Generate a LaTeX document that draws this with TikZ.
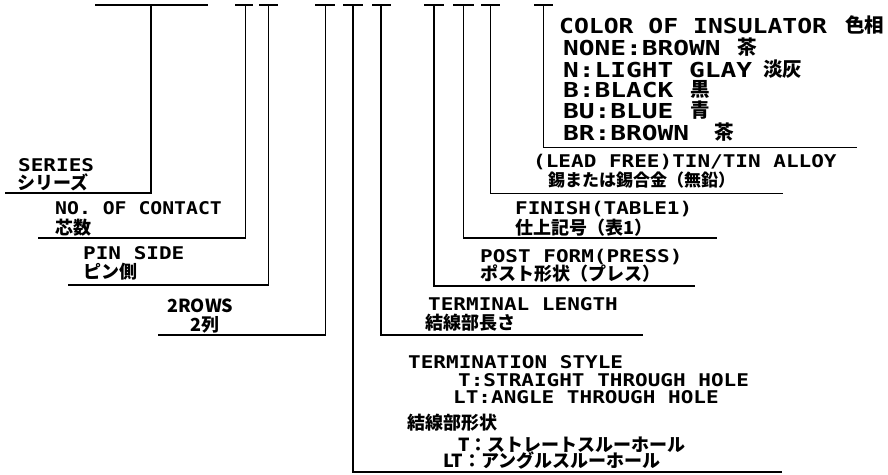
\documentclass[tikz,border=0pt]{standalone}
\usepackage{fontspec}
\newfontfamily\latfam[FakeStretch=1.2]{DejaVu Sans Mono}
\newfontfamily\latfamW[FakeStretch=1.27]{DejaVu Sans Mono}
\newfontfamily\latfamN[FakeStretch=1.13]{DejaVu Sans Mono}
\newfontfamily\jpfam{Noto Sans CJK JP}
\newcommand\mylat{\latfam\bfseries\fontsize{17.5pt}{20pt}\selectfont}
\newcommand\mylatN{\latfamN\bfseries\fontsize{17.5pt}{20pt}\selectfont}
\newcommand\mylatC{\latfam\bfseries\fontsize{20.6pt}{23pt}\selectfont}
\newcommand\mylatW{\latfamW\bfseries\fontsize{20.6pt}{23pt}\selectfont}
\newcommand\myjp{\jpfam\bfseries\fontsize{18pt}{20pt}\selectfont}
\newcommand\myjpS{\jpfam\bfseries\fontsize{17pt}{19pt}\selectfont}
\newcommand\myjpC{\jpfam\bfseries\fontsize{19.5pt}{22pt}\selectfont}
\begin{document}
\begin{tikzpicture}[x=1pt,y=-1pt,
  lbl/.style={anchor=base west,inner sep=0pt,font=\mylat,text height=13pt,text depth=0pt},
  lblC/.style={anchor=base west,inner sep=0pt,font=\mylatC,text height=15pt,text depth=0pt},
  lblW/.style={anchor=base west,inner sep=0pt,font=\mylatW,text height=15pt,text depth=0pt},
  jlbl/.style={anchor=base west,inner sep=0pt,font=\myjp,text height=13pt,text depth=1pt},
  jlblC/.style={anchor=base west,inner sep=0pt,font=\myjpC,text height=15pt,text depth=1pt},
  topbar/.style={line width=2.6pt},
  leader/.style={line width=1.8pt}]
\fill[white] (0,0) rectangle (888,474);
\useasboundingbox (0,0) rectangle (888,474);
% top bars
\coordinate (b1a) at (95,5);   \coordinate (b1b) at (208,5);
\coordinate (b2a) at (235,5);  \coordinate (b2b) at (253,5);
\coordinate (b3a) at (259,5);  \coordinate (b3b) at (278,5);
\coordinate (b4a) at (315,5);  \coordinate (b4b) at (335,5);
\coordinate (b5a) at (343,5);  \coordinate (b5b) at (363,5);
\coordinate (b6a) at (372,5);  \coordinate (b6b) at (391,5);
\coordinate (b7a) at (424,5);  \coordinate (b7b) at (444,5);
\coordinate (b8a) at (453,5);  \coordinate (b8b) at (474,5);
\coordinate (b9a) at (481,5);  \coordinate (b9b) at (500,5);
\coordinate (b10a) at (534,5); \coordinate (b10b) at (553,5);
\foreach \i in {1,...,10} {\draw[topbar] (b\i a) -- (b\i b);}
% leader tops and ends
\coordinate (t1) at (151,5);    \coordinate (l1) at (5,192.7);
\coordinate (t2) at (245.5,5);  \coordinate (l2) at (38,237.7);
\coordinate (t3) at (268.5,5);  \coordinate (l3) at (68,285);
\coordinate (t4) at (325.5,5);  \coordinate (l4) at (158,335);
\coordinate (t5) at (353,5);    \coordinate (l5) at (782,471.7);
\coordinate (t6) at (381,5);    \coordinate (l6) at (643,335);
\coordinate (t7) at (434,5);    \coordinate (l7) at (695,286);
\coordinate (t8) at (463.5,5);  \coordinate (l8) at (717,238);
\coordinate (t9) at (490.5,5);  \coordinate (l9) at (783,193.5);
\coordinate (t10) at (543.5,5); \coordinate (l10) at (857,147.5);
\foreach \i in {1,...,10} {\draw[leader] (t\i) |- (l\i);}
% labels
\node[lbl]  (series)  at (18,171) {SERIES};
\node[jlbl] (seriesj) at (17,189.5) {シリーズ};
\node[lbl,font=\mylatN] (noc) at (55,214) {NO. OF CONTACT};
\node[jlbl] (nocj)    at (55,234.5) {芯数};
\node[lbl]  (pin)     at (83,259) {PIN SIDE};
\node[jlbl] (pinj)    at (83,278) {ピン側};
\node[jlbl] (rows)    at (167,312) {2ROWS};
\node[jlbl] (rowsj)   at (190,331) {2列};
\node[lbl]  (tl)      at (428,310) {TERMINAL LENGTH};
\node[jlbl] (tlj)     at (425,329.5) {結線部長さ};
\node[lbl]  (pf)      at (480,262) {POST FORM(PRESS)};
\node[jlbl] (pfj)     at (480,280) {ポスト形状（プレス）};
\node[lbl]  (fin)     at (515,214) {FINISH(TABLE1)};
\node[jlbl] (finj)    at (515,234.5) {仕上記号（表1）};
\node[lbl]  (lf)      at (533,167) {(LEAD FREE)TIN/TIN ALLOY};
\node[anchor=base west,inner sep=0pt,font=\myjpS,text height=13pt,text depth=1pt] (lfj) at (548,186.5) {錫または錫合金（無鉛）};
% color of insulator
\node[lblC]  (col)   at (559,33) {COLOR OF INSULATOR};
\node[jlblC] (colj)  at (845,32) {色相};
\node[lblW]  (c1)    at (563,55) {NONE:BROWN};
\node[jlblC] (c1j)   at (737,54) {茶};
\node[lblW]  (c2)    at (563,77) {N:LIGHT GLAY};
\node[jlblC] (c2j)   at (763,76) {淡灰};
\node[lblW]  (c3)    at (563,97) {B:BLACK};
\node[jlblC] (c3j)   at (690,96) {黒};
\node[lblW]  (c4)    at (563,118) {BU:BLUE};
\node[jlblC] (c4j)   at (690,117) {青};
\node[lblW]  (c5)    at (563,140) {BR:BROWN};
\node[jlblC] (c5j)   at (714,139) {茶};
% termination style
\node[lbl]  (ts)   at (408,368) {TERMINATION STYLE};
\node[lbl]  (ts1)  at (458,386.5) {T:STRAIGHT THROUGH HOLE};
\node[lbl]  (ts2)  at (453,403) {LT:ANGLE THROUGH HOLE};
\node[jlbl] (tsj)  at (407,429) {結線部形状};
\node[jlbl] (tsj1) at (458,451.5) {T：ストレートスルーホール};
\node[jlbl] (tsj2) at (443,467.5) {LT：アングルスルーホール};
\end{tikzpicture}
\end{document}
